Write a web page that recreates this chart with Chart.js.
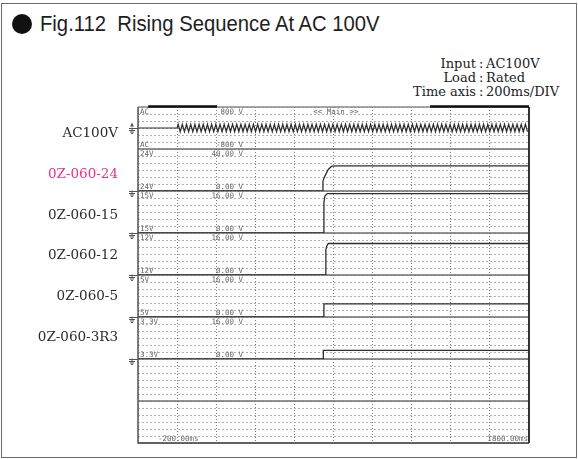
<!DOCTYPE html>
<html>
<head>
<meta charset="utf-8">
<script src="https://cdn.jsdelivr.net/npm/chart.js@4.4.1/dist/chart.umd.min.js"></script>
<style>
  body { margin: 0; background: #fff; }
  #page { position: relative; width: 578px; height: 459px; overflow: hidden; }
  #frame { position: absolute; left: 1px; top: 3px; width: 574px; height: 453px; border: 1.5px solid #6b6b6b; }
  #bullet { position: absolute; left: 12px; top: 14px; width: 20px; height: 20px; border-radius: 50%; background: #111; }
  #title { position: absolute; left: 40px; top: 13px; font: 22.5px/22.5px "Liberation Sans", Arial, sans-serif;
           color: #1e1e1e; white-space: nowrap; transform: scaleX(0.9); transform-origin: 0 0; }
  .info { position: absolute; font: 13px/14px "DejaVu Serif", serif; color: #222; white-space: nowrap; }
  .key { right: 102px; text-align: right; }
  .sep { left: 479px; }
  .val { left: 486px; }
  canvas { position: absolute; left: 0; top: 0; }
</style>
</head>
<body>
<div id="page">
  <div id="frame"></div>
  <div id="bullet"></div>
  <div id="title">Fig.112&nbsp;&nbsp;Rising Sequence At AC 100V</div>
  <div class="info key" style="top:57px">Input</div><div class="info sep" style="top:57px">:</div><div class="info val" style="top:57px">AC100V</div>
  <div class="info key" style="top:71px">Load</div><div class="info sep" style="top:71px">:</div><div class="info val" style="top:71px">Rated</div>
  <div class="info key" style="top:85px">Time axis</div><div class="info sep" style="top:85px">:</div><div class="info val" style="top:85px">200ms/DIV</div>
  <canvas id="scope" width="578" height="459"></canvas>
</div>
<script>
// time base of the scope screen (ms)
const timeMin = -200;
const timeMax = 1800;
const timeStep = 200;

// channels, top to bottom
const channelNames = ['AC100V', '0Z-060-24', '0Z-060-15', '0Z-060-12', '0Z-060-5', '0Z-060-3R3'];
const channelColors = ['#2b2b2b', '#e5338c', '#2b2b2b', '#2b2b2b', '#2b2b2b', '#2b2b2b'];
const channelIds = ['AC', '24V', '15V', '12V', '5V', '3.3V'];
const channelMin = [-800, 0, 0, 0, 0, 0];
const channelMax = [800, 40, 16, 16, 16, 16];
const scaleTopText = ['800 V', '40.00 V', '16.00 V', '16.00 V', '16.00 V', '16.00 V'];
const scaleBottomText = ['-800 V', '0.00 V', '0.00 V', '0.00 V', '0.00 V', '0.00 V'];
const timeStartText = '-200.00ms';
const timeEndText = '1800.00ms';

// AC input: flat before switch-on, then the displayed peaks
const acFlatTimes = [-200, 0];
const acFlatVolts = [0, 0];
const acPeakStartMs = 5.4;
const acPeakStepMs = 10.7;
const acPeakVolts = [
  141, -141, 141, -141, 141, -141, 141, -141, 141, -141, 141, -141,
  141, -141, 141, -141, 141, -141, 141, -141, 141, -141, 141, -141,
  141, -141, 141, -141, 141, -141, 141, -141, 141, -141, 141, -141,
  141, -141, 141, -141, 141, -141, 141, -141, 141, -141, 141, -141,
  141, -141, 141, -141, 141, -141, 141, -141, 141, -141, 141, -141,
  141, -141, 141, -141, 141, -141, 141, -141, 141, -141, 141, -141,
  141, -141, 141, -141, 141, -141, 141, -141, 141, -141, 141, -141,
  141, -141, 141, -141, 141, -141, 141, -141, 141, -141, 141, -141,
  141, -141, 141, -141, 141, -141, 141, -141, 141, -141, 141, -141,
  141, -141, 141, -141, 141, -141, 141, -141, 141, -141, 141, -141,
  141, -141, 141, -141, 141, -141, 141, -141, 141, -141, 141, -141,
  141, -141, 141, -141, 141, -141, 141, -141, 141, -141, 141, -141,
  141, -141, 141, -141, 141, -141, 141, -141, 141, -141, 141, -141,
  141, -141, 141, -141, 141, -141, 141, -141, 141, -141, 141, -141
];

// output rails (time ms, volts)
const rail24Times = [-200, 745, 746, 756, 773, 791, 816, 1800];
const rail24Volts = [0, 0, 9.4, 14.2, 20.5, 23.6, 24, 24];
const rail15Times = [-200, 748, 751, 756, 768, 1800];
const rail15Volts = [0, 0, 11.5, 14.1, 15, 15];
const rail12Times = [-200, 758, 761, 765, 773, 1800];
const rail12Volts = [0, 0, 9.7, 10.9, 12, 12];
const rail5Times = [-200, 751, 751, 1800];
const rail5Volts = [0, 0, 5, 5];
const rail3r3Times = [-200, 748, 748, 1800];
const rail3r3Volts = [0, 0, 3.3, 3.3];

// panels of the screen, top to bottom (last two are empty)
const panelIds = ['yAC', 'y24', 'y15', 'y12', 'y5', 'y3r3', 'yE1', 'yE2'];

function toPoints(times, volts) {
  return times.map((t, i) => ({ x: t, y: volts[i] }));
}

const acPoints = toPoints(acFlatTimes, acFlatVolts)
  .concat(acPeakVolts.map((v, i) => ({ x: acPeakStartMs + i * acPeakStepMs, y: v })));

function trace(points, axis, width) {
  return {
    data: points,
    yAxisID: axis,
    borderColor: '#2e2e2e',
    borderWidth: width,
    pointRadius: 0,
    tension: 0,
    fill: false
  };
}

function drawGround(ctx, x, y, plotLeft, arrow) {
  ctx.beginPath();
  ctx.moveTo(x - 3, y); ctx.lineTo(plotLeft, y);
  ctx.moveTo(x, y - 1); ctx.lineTo(x, y + 2);
  ctx.moveTo(x - 3, y + 2); ctx.lineTo(x + 3, y + 2);
  ctx.moveTo(x - 2, y + 3.5); ctx.lineTo(x + 2, y + 3.5);
  ctx.moveTo(x - 1, y + 5); ctx.lineTo(x + 1, y + 5);
  ctx.stroke();
  if (arrow) {
    ctx.beginPath();
    ctx.moveTo(x, y - 6); ctx.lineTo(x - 2, y - 2); ctx.lineTo(x + 2, y - 2); ctx.closePath();
    ctx.fill();
  }
}

const scopeDecor = {
  id: 'scopeDecor',
  beforeDatasetsDraw(chart) {
    const { ctx, chartArea: a } = chart;
    ctx.save();
    ctx.strokeStyle = '#6e6e6e';
    ctx.lineWidth = 1.5;
    panelIds.forEach(id => {
      const s = chart.scales[id];
      ctx.beginPath(); ctx.moveTo(a.left, s.bottom); ctx.lineTo(a.right, s.bottom); ctx.stroke();
    });
    ctx.restore();
  },
  afterDatasetsDraw(chart) {
    const { ctx, chartArea: a } = chart;
    const w = a.right - a.left;
    ctx.save();
    // plot frame
    ctx.strokeStyle = '#8a8a8a'; ctx.lineWidth = 1.5;
    ctx.beginPath(); ctx.moveTo(a.left, a.top); ctx.lineTo(a.right, a.top); ctx.stroke();
    ctx.strokeStyle = '#555';
    ctx.beginPath(); ctx.moveTo(a.left, a.top); ctx.lineTo(a.left, a.bottom); ctx.lineTo(a.right, a.bottom); ctx.stroke();
    ctx.strokeStyle = '#333'; ctx.lineWidth = 2;
    ctx.beginPath(); ctx.moveTo(a.right, a.top); ctx.lineTo(a.right, a.bottom); ctx.stroke();
    // zoom bars above the screen
    ctx.strokeStyle = '#111'; ctx.lineWidth = 2.5;
    ctx.beginPath();
    ctx.moveTo(a.left + 0.026 * w, a.top - 0.5); ctx.lineTo(a.left + 0.202 * w, a.top - 0.5);
    ctx.moveTo(a.left + 0.747 * w, a.top - 0.5); ctx.lineTo(a.right, a.top - 0.5);
    ctx.stroke();

    // screen annotations
    ctx.font = '7.5px "DejaVu Sans Mono", monospace';
    ctx.fillStyle = '#666';
    ctx.textBaseline = 'middle';
    const valueX = a.left + 0.2685 * w;
    channelIds.forEach((name, i) => {
      const s = chart.scales[panelIds[i]];
      ctx.textAlign = 'left';
      ctx.fillText(name, a.left + 2, s.top + 5);
      ctx.fillText(name, a.left + 2, s.bottom - 4);
      ctx.textAlign = 'right';
      ctx.fillText(scaleTopText[i], valueX, s.top + 5);
      ctx.fillText(scaleBottomText[i], valueX, s.bottom - 4);
    });
    ctx.textAlign = 'center';
    ctx.fillText('<< Main >>', a.left + 0.506 * w, chart.scales.yAC.top + 5);
    ctx.textAlign = 'left';
    ctx.fillText(timeStartText, a.left + 20, a.bottom - 3.5);
    ctx.textAlign = 'right';
    ctx.fillText(timeEndText, a.right - 1, a.bottom - 3.5);

    // ground markers and channel names
    ctx.strokeStyle = '#555'; ctx.fillStyle = '#555'; ctx.lineWidth = 1;
    channelNames.forEach((name, i) => {
      const s = chart.scales[panelIds[i]];
      drawGround(ctx, a.left - 6, Math.round(s.getPixelForValue(0)) + 0.5, a.left, i === 0);
    });
    ctx.font = '13.5px "DejaVu Serif", serif';
    ctx.textAlign = 'right';
    channelNames.forEach((name, i) => {
      const s = chart.scales[panelIds[i]];
      ctx.fillStyle = channelColors[i];
      ctx.fillText(name, a.left - 20, (s.top + s.bottom) / 2 + 5.5 - 1.25 * i);
    });
    ctx.restore();
  }
};

const scales = {
  x: {
    type: 'linear',
    min: timeMin,
    max: timeMax,
    ticks: { display: false, stepSize: timeStep },
    grid: { color: '#7e7e7e', lineWidth: 1, drawTicks: false, tickLength: 0 },
    border: { display: false, dash: [1, 2] },
    afterFit: s => { s.height = 0; }
  }
};
// left-stacked scales are laid out bottom-up, so register them in reverse
panelIds.slice().reverse().forEach(id => {
  const i = panelIds.indexOf(id);
  scales[id] = {
    type: 'linear',
    position: 'left',
    stack: 'scope',
    stackWeight: 1,
    min: i < channelMin.length ? channelMin[i] : 0,
    max: i < channelMax.length ? channelMax[i] : 16,
    ticks: { display: false, count: 7 },
    grid: { color: '#b0b0b0', lineWidth: 1, drawTicks: false, tickLength: 0 },
    border: { display: false, dash: [2, 2] },
    afterFit: s => { s.width = 0; }
  };
});

new Chart(document.getElementById('scope'), {
  type: 'line',
  data: {
    datasets: [
      trace(acPoints, 'yAC', 1.2),
      trace(toPoints(rail24Times, rail24Volts), 'y24', 1.3),
      trace(toPoints(rail15Times, rail15Volts), 'y15', 1.3),
      trace(toPoints(rail12Times, rail12Volts), 'y12', 1.3),
      trace(toPoints(rail5Times, rail5Volts), 'y5', 1.3),
      trace(toPoints(rail3r3Times, rail3r3Volts), 'y3r3', 1.3)
    ]
  },
  options: {
    responsive: false,
    devicePixelRatio: 1,
    animation: false,
    layout: { padding: { left: 138, top: 107, right: 49, bottom: 16 } },
    plugins: { legend: { display: false }, tooltip: { enabled: false } },
    scales: scales
  },
  plugins: [scopeDecor]
});
</script>
</body>
</html>
